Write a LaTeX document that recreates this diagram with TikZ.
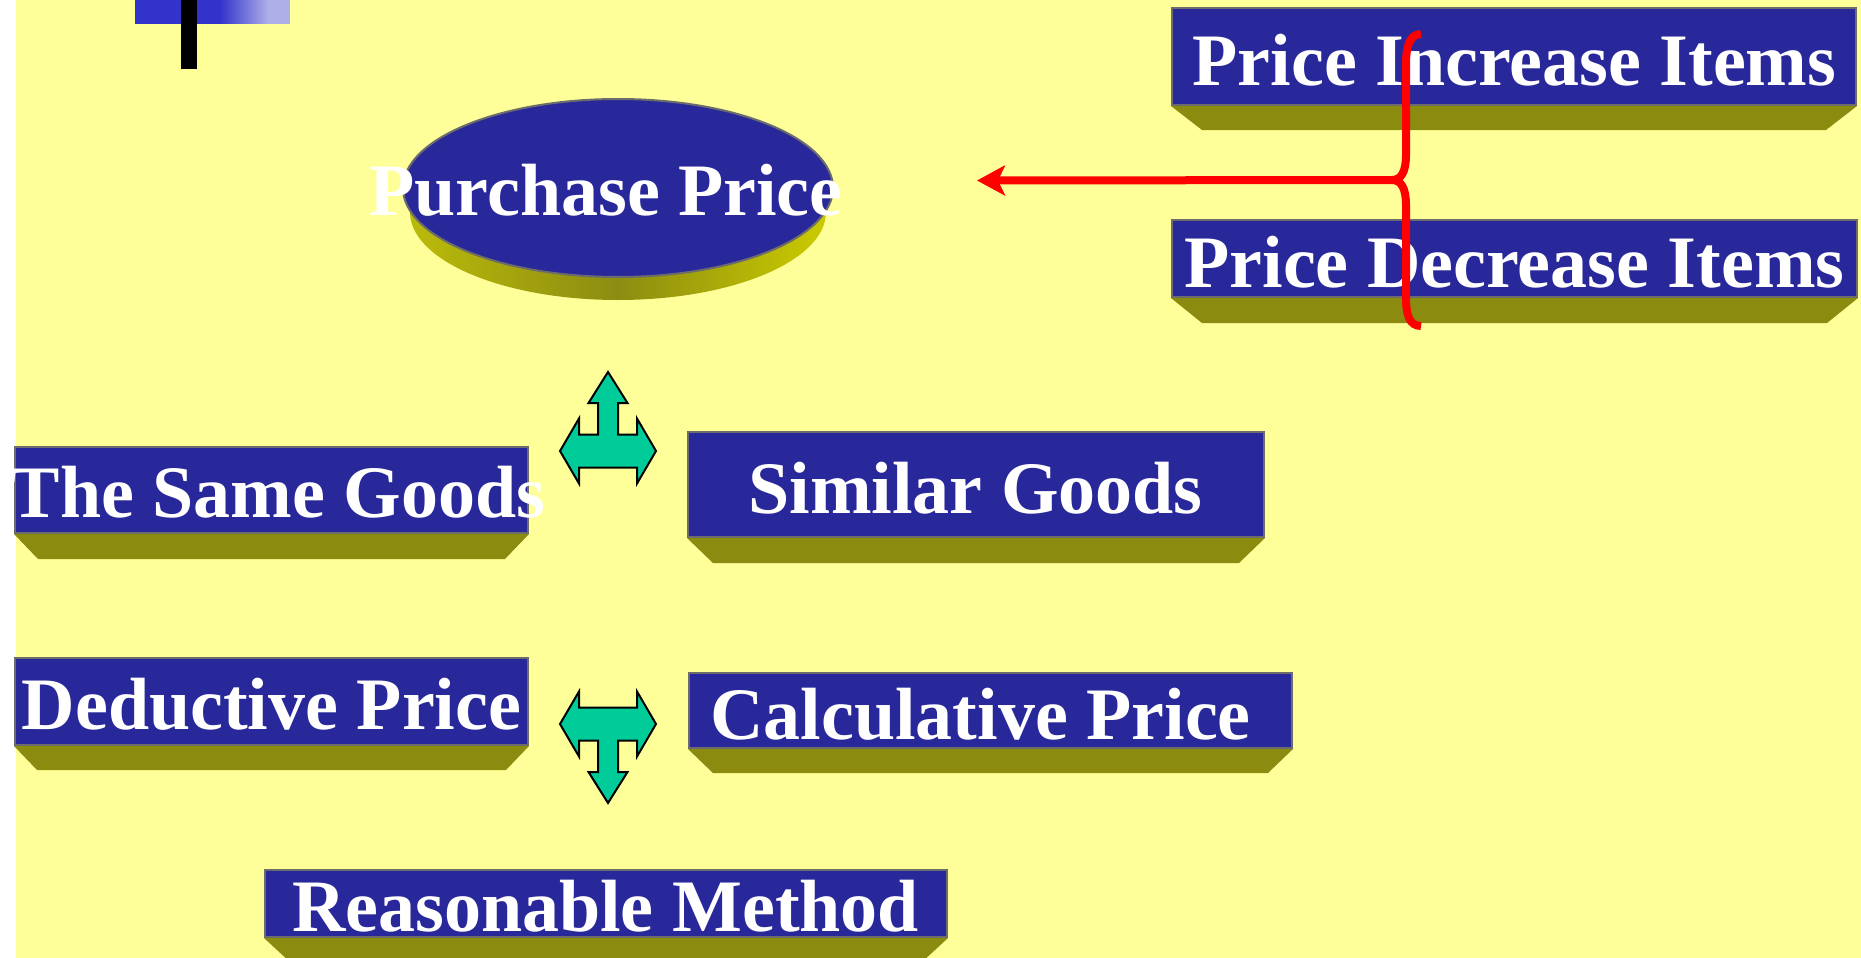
\documentclass[tikz,border=0pt]{standalone}
\usepackage{fontspec}
\setmainfont{Liberation Serif}
\usetikzlibrary{shapes.geometric,arrows.meta,calc}

\definecolor{paper}{RGB}{255,255,153}
\definecolor{slabblue}{RGB}{40,40,155}
\definecolor{rimgray}{RGB}{108,108,108}
\definecolor{plinthol}{RGB}{139,139,15}
\definecolor{tealfill}{RGB}{0,204,153}
\definecolor{markblue}{RGB}{51,51,204}
\definecolor{markpale}{RGB}{174,174,232}

% olive base drawn under a box: #1 node, #2 inset, #3 depth
\newcommand\plinth[3]{%
  \fill[plinthol] (#1.south west) -- (#1.south east) -- ++(-#2,#3)
    -- ($(#1.south west)+(#2,#3)$) -- cycle;}

\tikzset{
  slab/.style={rectangle, fill=slabblue, draw=rimgray, line width=2pt, inner sep=0pt},
  lbl/.style={text=white, font=\bfseries\fontsize{74}{80}\selectfont, inner sep=0pt, anchor=base},
  redline/.style={draw=red, line width=8pt},
  tarrow/.pic={
    \filldraw[fill=tealfill, draw=black, line width=2pt, line join=miter]
      (0,-79) -- (19.5,-48) -- (10,-48) -- (10,-16.5) -- (29,-16.5) -- (29,-32.5)
      -- (48,0) -- (29,32.5) -- (29,16.5) -- (-29,16.5) -- (-29,32.5) -- (-48,0)
      -- (-29,-32.5) -- (-29,-16.5) -- (-10,-16.5) -- (-10,-48) -- (-19.5,-48) -- cycle;
  }
}

\begin{document}
\begin{tikzpicture}[x=1pt,y=-1pt]
\useasboundingbox (0,0) rectangle (1861,958);
\fill[white] (0,0) rectangle (1861,958);
\fill[paper] (16,0) rectangle (1861,958);

% corner mark
\fill[markblue] (135,0) rectangle (221,24);
\shade[left color=markblue, right color=markpale] (220,0) rectangle (268,24);
\fill[markpale] (267,0) rectangle (290,24);
\fill[black] (181,0) rectangle (197,69);

% Purchase Price disc
\shade[left color={rgb,255:red,188;green,188;blue,10},
       right color={rgb,255:red,205;green,205;blue,0},
       middle color={rgb,255:red,140;green,140;blue,18}]
  (403,188) -- (410,212) arc[start angle=180, end angle=0, x radius=208, y radius=88]
  -- (833,188) -- cycle;
\node[ellipse, fill=slabblue, draw=rimgray, line width=2pt, inner sep=0pt,
      minimum width=430pt, minimum height=178pt] (pp) at (618,188) {};
\node[lbl] (lpp) at (606,215) {Purchase Price};

% boxes
\node[slab, minimum width=684pt, minimum height=97pt] (inc) at (1514,56.5) {};
\plinth{inc}{31}{24}
\node[slab, minimum width=685pt, minimum height=77pt] (dec) at (1514.5,258.5) {};
\plinth{dec}{31}{25}
\node[slab, minimum width=513pt, minimum height=86pt] (same) at (271.5,490) {};
\plinth{same}{24}{25}
\node[slab, minimum width=576pt, minimum height=105pt] (sim) at (976,484.5) {};
\plinth{sim}{26}{25}
\node[slab, minimum width=513pt, minimum height=87pt] (ded) at (271.5,701.5) {};
\plinth{ded}{23}{24}
\node[slab, minimum width=603pt, minimum height=75pt] (calc) at (990.5,710.5) {};
\plinth{calc}{25}{24}
\node[slab, minimum width=682pt, minimum height=67pt] (reas) at (606,903.5) {};
\plinth{reas}{26}{24}

% labels
\node[lbl] (linc) at (1514.5,85) {Price Increase Items};
\node[lbl] (ldec) at (1514.5,287) {Price Decrease Items};
\node[lbl] (lsame) at (278,517) {The Same Goods};
\node[lbl] (lsim) at (975.5,513) {Similar Goods};
\node[lbl] (lded) at (271.5,729) {Deductive Price};
\node[lbl] (lcalc) at (980.5,739) {Calculative Price};
\node[lbl] (lreas) at (605.5,931) {Reasonable Method};

% brace gathering the two item boxes, with its arrow
\coordinate (btop) at (1421,34);
\coordinate (bbot) at (1421,326);
\coordinate (cusp) at (1392,180);
\coordinate (tip) at (977,180.5);
\draw[redline, line cap=butt]
  (btop) .. controls (1409,34) and (1406,48) .. (1406,64) -- (1406,155)
  .. controls (1406,172) and (1401,180) .. (cusp)
  .. controls (1401,180) and (1406,188) .. (1406,205) -- (1406,298)
  .. controls (1406,314) and (1409,326) .. (bbot);
\draw[redline, -{Stealth[length=28pt, width=30pt, inset=7pt]}] (cusp) -- (tip);

% three-way block arrows
\pic (upfork) at (608,451) {tarrow};
\pic[yscale=-1] (downfork) at (608,724) {tarrow};
\end{tikzpicture}
\end{document}
